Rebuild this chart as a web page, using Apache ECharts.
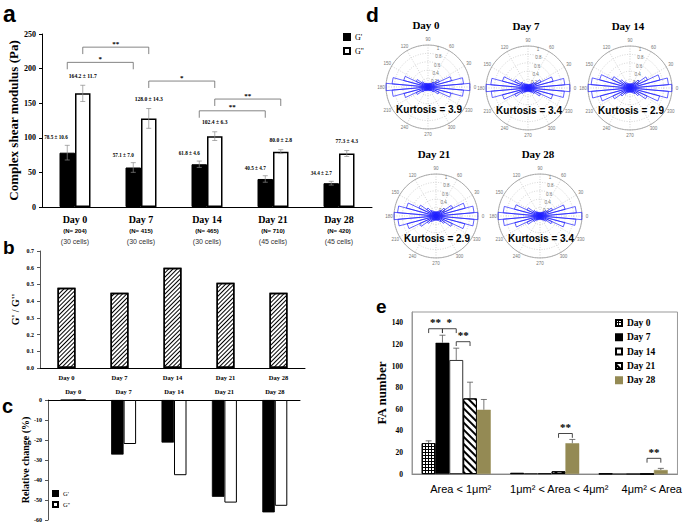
<!DOCTYPE html>
<html><head><meta charset="utf-8">
<script src="https://cdn.jsdelivr.net/npm/echarts@6/dist/echarts.min.js"></script>
<style>html,body{margin:0;padding:0;background:#fff}#c{width:685px;height:523px}</style>
</head><body><div id="c"></div>
<script>
// ---------- data: panel a ----------
const days = ['Day 0', 'Day 7', 'Day 14', 'Day 21', 'Day 28'];
const nCounts = ['204', '415', '465', '710', '420'];
const cellCounts = ['30', '30', '30', '45', '45'];
const gPrime = [78.5, 57.1, 61.8, 40.5, 34.4];
const gPrimeErr = [10.6, 7.0, 4.6, 4.7, 2.7];
const gDouble = [164.2, 128.0, 102.4, 80.0, 77.3];
const gDoubleErr = [11.7, 14.3, 6.3, 2.8, 4.3];
// [fromDay, fromSeries(0=G',1=G''), toDay, toSeries, level]
const sigA = [[0, 1, 1, 1, 231], [0, 0, 1, 0, 209], [1, 1, 2, 1, 182], [2, 1, 3, 1, 156], [2, 0, 3, 0, 139]];
const sigAText = ['**', '*', '*', '**', '**'];
// ---------- panel b ----------
const ratio = [0.48, 0.45, 0.60, 0.51, 0.45];
// ---------- panel c ----------
const relGPrime = [0, -27.3, -21.3, -48.4, -56.2];
const relGDouble = [0, -22.0, -37.6, -51.3, -52.9];
// ---------- panel d ----------
const roseAngles = [0,10,20,30,40,50,60,70,80,90,100,110,120,130,140,150,160,170,180,190,200,210,220,230,240,250,260,270,280,290,300,310,320,330,340,350];
const roseDay0 = [1.00,0.85,0.58,0.30,0.17,0.12,0.10,0.09,0.08,0.08,0.08,0.09,0.10,0.12,0.18,0.31,0.60,0.86,1.00,0.86,0.59,0.31,0.17,0.12,0.10,0.09,0.08,0.08,0.08,0.09,0.10,0.12,0.17,0.29,0.57,0.85];
const roseDay7 = [1.00,0.88,0.62,0.34,0.19,0.13,0.11,0.09,0.08,0.08,0.09,0.10,0.11,0.14,0.20,0.35,0.63,0.89,1.00,0.88,0.63,0.35,0.19,0.13,0.11,0.09,0.08,0.08,0.08,0.09,0.11,0.13,0.19,0.33,0.61,0.87];
const roseDay14 = [1.00,0.92,0.74,0.46,0.27,0.18,0.13,0.11,0.10,0.10,0.10,0.11,0.13,0.18,0.28,0.47,0.75,0.93,1.00,0.92,0.73,0.45,0.27,0.18,0.13,0.11,0.10,0.10,0.10,0.11,0.13,0.17,0.26,0.45,0.73,0.92];
const roseDay21 = [1.00,0.91,0.72,0.44,0.26,0.17,0.13,0.11,0.10,0.10,0.10,0.11,0.13,0.17,0.27,0.45,0.73,0.92,1.00,0.91,0.71,0.43,0.25,0.17,0.13,0.11,0.10,0.10,0.10,0.11,0.12,0.17,0.25,0.43,0.71,0.91];
const roseDay28 = [1.00,0.87,0.62,0.33,0.19,0.13,0.11,0.09,0.08,0.08,0.08,0.09,0.11,0.13,0.19,0.34,0.63,0.88,1.00,0.88,0.62,0.34,0.19,0.13,0.11,0.09,0.08,0.08,0.08,0.09,0.11,0.13,0.18,0.32,0.61,0.86];
const kurtosis = ['3.9', '3.4', '2.9', '2.9', '3.4'];
const roseAngleTicks = [0, 30, 60, 90, 120, 150, 180, 210, 240, 270, 300, 330];
const roseRadiusTicks = [0.2, 0.4, 0.6, 0.8, 1];
// ---------- panel e ----------
const faCats = ['Area < 1μm²', '1μm² < Area < 4μm²', '4μm² < Area'];
const faDays = ['Day 0', 'Day 7', 'Day 14', 'Day 21', 'Day 28'];
const faDay0 = [28.5, 1.0, 0.3];   const faDay0Err = [2.2, 0, 0];
const faDay7 = [121.5, 0.6, 0];    const faDay7Err = [7.0, 0, 0];
const faDay14 = [105.5, 0.6, 0];   const faDay14Err = [11.0, 0, 0];
const faDay21 = [70.0, 2.5, 0];    const faDay21Err = [15.0, 0, 0];
const faDay28 = [59.5, 28.5, 3.7]; const faDay28Err = [9.5, 3.5, 1.5];
// [group, fromSeries, toSeries, level]
const sigE = [[0, 0, 1, 134.5], [0, 1, 2, 134.5], [0, 2, 3, 122.5], [1, 3, 4, 37.5], [2, 3, 4, 14.5]];
const sigEText = ['**', '*', '**', '**', '**'];

// ---------- styles ----------
const SERIF = "'Liberation Serif','Times New Roman',serif";
const SANS = "'Liberation Sans',Arial,sans-serif";
const BW_A = 15.5, BW_B = 18, BW_C = 12.5, BW_E = 13.8;

const chart = echarts.init(document.getElementById('c'), null, { renderer: 'svg' });

function errLabelA(slot) {
  return function (params, api) {
    const i = api.value(0), v = api.value(1), e = api.value(2);
    const x = api.coord([i, 0])[0] + (slot - 0.5) * BW_A;
    const yT = api.coord([i, v + e])[1], yB = api.coord([i, v - e])[1];
    const st = { stroke: '#8a8a8a', lineWidth: 0.7 };
    const txt = v.toFixed(1) + ' ± ' + e.toFixed(1);
    return { type: 'group', children: [
      { type: 'line', shape: { x1: x, y1: yT, x2: x, y2: yB }, style: st },
      { type: 'line', shape: { x1: x - 2.5, y1: yT, x2: x + 2.5, y2: yT }, style: st },
      { type: 'line', shape: { x1: x - 2.5, y1: yB, x2: x + 2.5, y2: yB }, style: st },
      { type: 'text', style: { text: txt, x: slot === 0 ? x + 0.5 : x, y: yT - (slot === 0 ? 8 : 9.5),
        align: slot === 0 ? 'right' : 'center', verticalAlign: 'middle', fontSize: slot === 0 ? 5.2 : 5.6, fontWeight: 'bold', fontFamily: SERIF, fill: '#000' } }
    ] };
  };
}
function bracketA(params, api) {
  const d = sigA[params.dataIndex];
  const x1 = api.coord([d[0], 0])[0] + (d[1] - 0.5) * BW_A;
  const x2 = api.coord([d[2], 0])[0] + (d[3] - 0.5) * BW_A;
  const yT = api.coord([d[0], d[4]])[1], yL = api.coord([d[0], d[4] - 10])[1];
  return { type: 'group', children: [
    { type: 'polyline', shape: { points: [[x1, yL], [x1, yT], [x2, yT], [x2, yL]] }, style: { stroke: '#666', lineWidth: 0.8, fill: null } },
    { type: 'text', style: { text: sigAText[params.dataIndex], x: (x1 + x2) / 2, y: yT - 3.5, align: 'center', verticalAlign: 'middle',
      fontSize: 7, fontWeight: 'bold', fontFamily: SERIF, fill: '#000' } }
  ] };
}
function errE(slot) {
  return function (params, api) {
    const i = api.value(0), v = api.value(1), e = api.value(2);
    if (!e) return null;
    const x = api.coord([i, 0])[0] + (slot - 2) * BW_E;
    const yT = api.coord([i, v + e])[1], yB = api.coord([i, v])[1];
    const st = { stroke: '#555', lineWidth: 0.8 };
    return { type: 'group', children: [
      { type: 'line', shape: { x1: x, y1: yT, x2: x, y2: yB }, style: st },
      { type: 'line', shape: { x1: x - 3, y1: yT, x2: x + 3, y2: yT }, style: st }
    ] };
  };
}
function bracketE(params, api) {
  const d = sigE[params.dataIndex];
  const c = api.coord([d[0], 0])[0];
  const x1 = c + (d[1] - 2) * BW_E, x2 = c + (d[2] - 2) * BW_E;
  const yT = api.coord([d[0], d[3]])[1], yL = api.coord([d[0], d[3] - 4])[1];
  return { type: 'group', children: [
    { type: 'polyline', shape: { points: [[x1, yL], [x1, yT], [x2, yT], [x2, yL]] }, style: { stroke: '#333', lineWidth: 0.9, fill: null } },
    { type: 'text', style: { text: sigEText[params.dataIndex], x: (x1 + x2) / 2, y: yT - 1, align: 'center', verticalAlign: 'bottom',
      fontSize: 11, fontWeight: 'bold', fontFamily: SERIF, fill: '#000' } }
  ] };
}
function roseItem(params, api) {
  const r = api.value(0), a = api.value(1);
  const c = api.coord([0, a]);
  const p1 = api.coord([r, a - 5]), p2 = api.coord([r, a + 5]);
  return { type: 'polygon', shape: { points: [c, p1, p2] }, style: { fill: 'none', stroke: '#2020ff', lineWidth: 0.7 } };
}
function angleLabelItem(params, api) {
  const a = api.value(1);
  const c = api.coord([0, a]), p = api.coord([1, a]);
  const k = 1.12;
  return { type: 'text', style: { text: String(roseAngleTicks[params.dataIndex]), x: c[0] + (p[0] - c[0]) * k, y: c[1] + (p[1] - c[1]) * k,
    align: 'center', verticalAlign: 'middle', fontSize: 4.5, fontFamily: SANS, fill: '#777' } };
}
function radiusLabelItem(params, api) {
  const p = api.coord([api.value(0), api.value(1)]);
  return { type: 'text', style: { text: String(roseRadiusTicks[params.dataIndex]), x: p[0] + 1.5, y: p[1] + 3,
    align: 'left', verticalAlign: 'middle', fontSize: 4.5, fontFamily: SANS, fill: '#777' } };
}

const hatchB = { symbol: 'rect', symbolSize: 1, dashArrayX: [1, 0], dashArrayY: [1, 2], rotation: -Math.PI / 4, color: '#000' };
const hatchE21 = { symbol: 'rect', symbolSize: 1, dashArrayX: [1, 0], dashArrayY: [1.6, 2.2], rotation: Math.PI / 4, color: '#000' };
const gridE0 = { symbol: 'rect', symbolSize: 1, dashArrayX: [2, 1], dashArrayY: [2, 1], color: '#fff' };

const series = [];
// panel a
series.push({ type: 'bar', name: "G'", xAxisIndex: 0, yAxisIndex: 0, data: gPrime, barWidth: BW_A, barGap: '0%',
  itemStyle: { color: '#000', borderColor: '#000', borderWidth: 1 } });
series.push({ type: 'bar', name: "G''", xAxisIndex: 0, yAxisIndex: 0, data: gDouble, barWidth: BW_A, barGap: '0%',
  itemStyle: { color: '#fff', borderColor: '#000', borderWidth: 1.5 } });
series.push({ type: 'custom', name: 'errGp', xAxisIndex: 0, yAxisIndex: 0, z: 5, renderItem: errLabelA(0),
  data: gPrime.map((v, i) => [i, v, gPrimeErr[i]]), encode: { x: 0, y: 1 } });
series.push({ type: 'custom', name: 'errGpp', xAxisIndex: 0, yAxisIndex: 0, z: 5, renderItem: errLabelA(1),
  data: gDouble.map((v, i) => [i, v, gDoubleErr[i]]), encode: { x: 0, y: 1 } });
series.push({ type: 'custom', name: 'sigA', xAxisIndex: 0, yAxisIndex: 0, z: 5, renderItem: bracketA,
  data: sigA.map(d => [d[0], d[4]]), encode: { x: 0, y: 1 } });
// panel b
series.push({ type: 'bar', name: 'ratio', xAxisIndex: 1, yAxisIndex: 1, data: ratio, barWidth: BW_B,
  itemStyle: { color: '#fff', borderColor: '#000', borderWidth: 1.5, decal: hatchB } });
// panel c
series.push({ type: 'bar', name: "G'", xAxisIndex: 2, yAxisIndex: 2, data: relGPrime, barWidth: BW_C, barGap: '0%',
  itemStyle: { color: '#000', borderColor: '#000', borderWidth: 0.8 } });
series.push({ type: 'bar', name: "G''", xAxisIndex: 2, yAxisIndex: 2, data: relGDouble, barWidth: BW_C, barGap: '0%',
  itemStyle: { color: '#fff', borderColor: '#000', borderWidth: 1 } });
// panel d
const roseSets = [roseDay0, roseDay7, roseDay14, roseDay21, roseDay28];
const polarCenters = [[428, 87], [528, 88], [630, 88], [436, 216], [540, 216]];
roseSets.forEach((vals, i) => {
  series.push({ type: 'custom', name: 'rose' + i, coordinateSystem: 'polar', polarIndex: i, renderItem: roseItem,
    data: vals.map((r, k) => [r, roseAngles[k]]), encode: { radius: 0, angle: 1 }, z: 3 });
  series.push({ type: 'custom', name: 'alab' + i, coordinateSystem: 'polar', polarIndex: i, renderItem: angleLabelItem, silent: true,
    data: roseAngleTicks.map(a => [1, a]), encode: { radius: 0, angle: 1 }, z: 2 });
  series.push({ type: 'custom', name: 'rlab' + i, coordinateSystem: 'polar', polarIndex: i, renderItem: radiusLabelItem, silent: true,
    data: roseRadiusTicks.map(r => [r, 80]), encode: { radius: 0, angle: 1 }, z: 2 });
});
// panel e
const faSets = [faDay0, faDay7, faDay14, faDay21, faDay28];
const faErrs = [faDay0Err, faDay7Err, faDay14Err, faDay21Err, faDay28Err];
const faStyles = [
  { color: '#000', borderColor: '#000', borderWidth: 0.8, decal: gridE0 },
  { color: '#000', borderColor: '#000', borderWidth: 0.5 },
  { color: '#fff', borderColor: '#000', borderWidth: 0.8 },
  { color: '#fff', borderColor: '#000', borderWidth: 1, decal: hatchE21 },
  { color: '#948A54', borderColor: '#948A54', borderWidth: 0.5 }
];
faSets.forEach((vals, s) => {
  series.push({ type: 'bar', name: faDays[s], xAxisIndex: 3, yAxisIndex: 3, data: vals, barWidth: BW_E, barGap: '0%', itemStyle: faStyles[s] });
});
faSets.forEach((vals, s) => {
  series.push({ type: 'custom', name: 'errE' + s, xAxisIndex: 3, yAxisIndex: 3, z: 5, renderItem: errE(s),
    data: vals.map((v, i) => [i, v, faErrs[s][i]]), encode: { x: 0, y: 1 } });
});
series.push({ type: 'custom', name: 'sigE', xAxisIndex: 3, yAxisIndex: 3, z: 5, renderItem: bracketE,
  data: sigE.map(d => [d[0], d[3]]), encode: { x: 0, y: 1 } });

const boldSerif = (size) => ({ fontFamily: SERIF, fontWeight: 'bold', fontSize: size, color: '#000' });

const xAxis = [
  { gridIndex: 0, type: 'category', data: days, axisLine: { lineStyle: { color: '#000', width: 1 } }, axisTick: { show: false },
    axisLabel: { margin: 6, interval: 0,
      formatter: (v, i) => '{d|' + v + '}\n{n|(N= ' + nCounts[i] + ')}\n{c|(' + cellCounts[i] + ' cells)}',
      rich: { d: { fontFamily: SERIF, fontWeight: 'bold', fontSize: 10, lineHeight: 13, color: '#000' },
              n: { fontFamily: SANS, fontWeight: 'bold', fontSize: 6, lineHeight: 10, color: '#000' },
              c: { fontFamily: SANS, fontSize: 7, lineHeight: 10, color: '#333' } } } },
  { gridIndex: 1, type: 'category', data: days, axisLine: { lineStyle: { color: '#000' } }, axisTick: { show: false },
    axisLabel: Object.assign({ margin: 6, interval: 0 }, boldSerif(6.5)) },
  { gridIndex: 2, type: 'category', data: days, position: 'top', axisLine: { onZero: false, lineStyle: { color: '#000' } }, axisTick: { show: false },
    axisLabel: Object.assign({ margin: 5, interval: 0 }, boldSerif(6.5)) },
  { gridIndex: 3, type: 'category', data: faCats, axisLine: { lineStyle: { color: '#888' } }, axisTick: { show: false },
    axisLabel: { margin: 9, interval: 0, formatter: (v, i) => '{l' + i + '|' + v + '}',
      rich: { l0: { fontFamily: SANS, fontSize: 11, color: '#000', padding: [0, 0, 0, 9] },
              l1: { fontFamily: SANS, fontSize: 11, color: '#000', padding: [0, 0, 0, 29] },
              l2: { fontFamily: SANS, fontSize: 11, color: '#000', padding: [0, 0, 0, 37] } } } }
];
const yAxis = [
  { gridIndex: 0, type: 'value', min: 0, max: 250, interval: 50, name: 'Complex shear modulus (Pa)', nameLocation: 'middle', nameGap: 21,
    nameTextStyle: boldSerif(13), axisLine: { show: true, lineStyle: { color: '#000' } }, axisTick: { show: true, length: 3 },
    splitLine: { show: false }, axisLabel: Object.assign({ margin: 6 }, boldSerif(8)) },
  { gridIndex: 1, type: 'value', min: 0, max: 0.7, interval: 0.1, name: "G' / G''", nameLocation: 'middle', nameGap: 20,
    nameTextStyle: boldSerif(10), axisLine: { show: true, lineStyle: { color: '#555' } }, axisTick: { show: true, length: 3 },
    splitLine: { show: false }, axisLabel: Object.assign({ margin: 6, formatter: v => v.toFixed(1) }, boldSerif(6)) },
  { gridIndex: 2, type: 'value', min: -60, max: 0, interval: 10, name: 'Relative change (%)', nameLocation: 'middle', nameGap: 18,
    nameTextStyle: boldSerif(10), axisLine: { show: true, lineStyle: { color: '#555' } }, axisTick: { show: true, length: 3 },
    splitLine: { show: false }, axisLabel: Object.assign({ margin: 6 }, boldSerif(6)) },
  { gridIndex: 3, type: 'value', min: 0, max: 150, interval: 10, name: 'FA number', nameLocation: 'middle', nameGap: 18,
    nameTextStyle: boldSerif(13), axisLine: { show: true, lineStyle: { color: '#999' } }, axisTick: { show: false },
    splitLine: { show: false }, axisLabel: Object.assign({ margin: 9, formatter: v => (v % 20 === 0 && v <= 140) ? String(v) : '' }, boldSerif(7.5)) }
];

const polar = polarCenters.map(c => ({ center: c, radius: 42 }));
const angleAxis = polarCenters.map((c, i) => ({ polarIndex: i, type: 'value', min: 0, max: 360, interval: 30, startAngle: 0, clockwise: false,
  axisLine: { lineStyle: { color: '#999', width: 0.8 } }, axisTick: { show: false }, axisLabel: { show: false },
  splitLine: { show: true, lineStyle: { type: [1, 1.5], color: '#bbb', width: 0.6 } } }));
const radiusAxis = polarCenters.map((c, i) => ({ polarIndex: i, type: 'value', min: 0, max: 1, interval: 0.2,
  axisLine: { show: false }, axisTick: { show: false }, axisLabel: { show: false },
  splitLine: { show: true, lineStyle: { type: [1, 1.5], color: '#bbb', width: 0.6 } } }));

const graphic = [
  { type: 'text', x: 3, y: 14, style: { text: 'a', fontSize: 23, fontWeight: 'bold', fontFamily: SANS, fill: '#000', verticalAlign: 'middle' } },
  { type: 'text', x: 3, y: 247, style: { text: 'b', fontSize: 19, fontWeight: 'bold', fontFamily: SANS, fill: '#000', verticalAlign: 'middle' } },
  { type: 'text', x: 2, y: 406, style: { text: 'c', fontSize: 20, fontWeight: 'bold', fontFamily: SANS, fill: '#000', verticalAlign: 'middle' } },
  { type: 'text', x: 366, y: 14, style: { text: 'd', fontSize: 21, fontWeight: 'bold', fontFamily: SANS, fill: '#000', verticalAlign: 'middle' } },
  { type: 'text', x: 376, y: 306, style: { text: 'e', fontSize: 19, fontWeight: 'bold', fontFamily: SANS, fill: '#000', verticalAlign: 'middle' } }
];
polarCenters.forEach((c, i) => {
  graphic.push({ type: 'text', x: c[0] - 2, y: c[1] - 62, style: { text: days[i], fontSize: 11, fontWeight: 'bold', fontFamily: SERIF, fill: '#000', align: 'center', verticalAlign: 'middle' } });
  graphic.push({ type: 'text', x: c[0] + 1, y: c[1] + 22, z: 10, style: { text: 'Kurtosis = ' + kurtosis[i], fontSize: 10, fontWeight: 'bold', fontFamily: SANS, fill: '#000', align: 'center', verticalAlign: 'middle' } });
});

chart.setOption({
  animation: false,
  backgroundColor: '#fff',
  textStyle: { fontFamily: SERIF },
  grid: [
    { left: 42, top: 34, width: 330, height: 173 },
    { left: 40, top: 251, width: 265, height: 117 },
    { left: 48, top: 400, width: 252, height: 120 },
    { left: 412, top: 312, width: 267, height: 162, show: true, borderColor: '#999', borderWidth: 1, backgroundColor: 'transparent' }
  ],
  xAxis, yAxis, polar, angleAxis, radiusAxis,
  legend: [
    { data: ["G'", "G''"], orient: 'vertical', left: 343, top: 33, padding: 0, itemWidth: 6, itemHeight: 6, itemGap: 6, icon: 'rect', selectedMode: false,
      textStyle: { fontFamily: SERIF, fontSize: 8, color: '#000' } },
    { data: ["G'", "G''"], orient: 'vertical', left: 52, top: 490, padding: 0, itemWidth: 5, itemHeight: 5, itemGap: 4, icon: 'rect', selectedMode: false,
      textStyle: { fontFamily: SERIF, fontSize: 6.5, color: '#000' } },
    { data: faDays, orient: 'vertical', left: 615, top: 318, padding: 0, itemWidth: 6, itemHeight: 6, itemGap: 4.3, icon: 'rect', selectedMode: false,
      textStyle: { fontFamily: SERIF, fontWeight: 'bold', fontSize: 9.5, color: '#000', lineHeight: 10 } }
  ],
  graphic,
  series
});
</script>
</body></html>
